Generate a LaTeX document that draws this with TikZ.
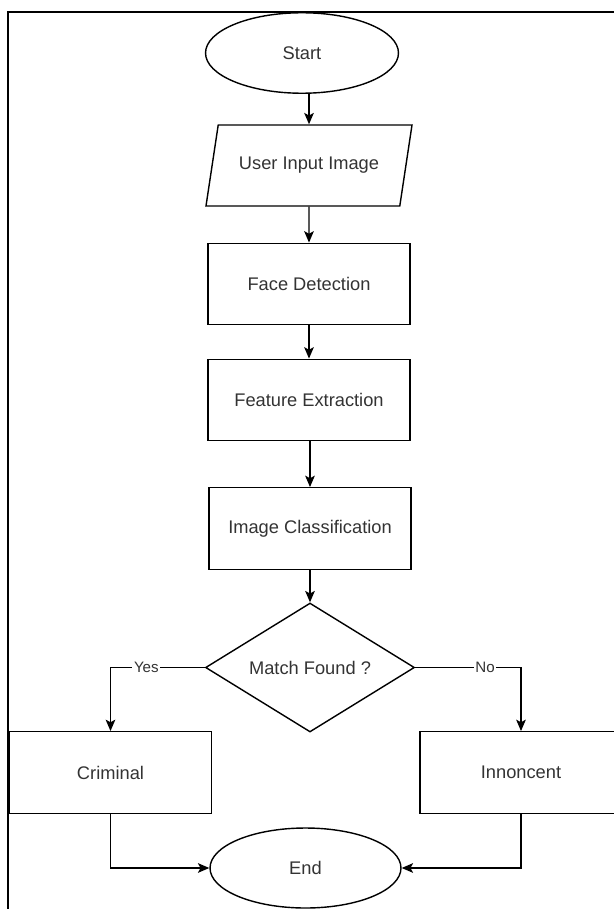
\documentclass[tikz,border=0pt]{standalone}
\usepackage{fontspec}
\setmainfont{Liberation Sans}
\usetikzlibrary{shapes.geometric}
\usetikzlibrary{arrows,arrows.meta}
\usetikzlibrary{calc}
\definecolor{linie}{RGB}{0,0,0}
\definecolor{schrift}{RGB}{51,51,51}

\begin{document}
\begin{tikzpicture}[x=0.02cm, y=-0.02cm, line width=0.8pt, linie,
    box/.style={draw, rectangle, minimum width=4.04cm, minimum height=1.63cm, text=schrift, font=\fontsize{10.4}{12}\selectfont},
    terminal/.style={draw, ellipse, minimum width=3.86cm, minimum height=1.61cm, text=schrift, font=\fontsize{10.4}{12}\selectfont},
    eingabe/.style={draw, trapezium, trapezium left angle=70, trapezium right angle=110, trapezium stretches=true, minimum width=4.16cm, minimum height=1.62cm, text=schrift, font=\fontsize{10.4}{12}\selectfont},
    frage/.style={draw, diamond, aspect=1.62, inner sep=0pt, minimum width=4.18cm, minimum height=2.58cm, text=schrift, font=\fontsize{10.4}{12}\selectfont},
    pfeil/.style={-{Stealth[length=6.5pt, width=5.5pt, inset=1.5pt]}},
    marke/.style={fill=white, inner sep=1pt, text=schrift, font=\fontsize{8.6}{10}\selectfont}]

    \useasboundingbox (0,0) rectangle (614,909);
    \clip (0,0) rectangle (614,909);

    % frame
    \draw[line width=1.1pt] (8,12) rectangle (700,1000);

    \node[terminal] (start) at (302,53) {Start};
    \node[eingabe] (input) at (309,165.5) {User Input Image};
    \node[box] (face) at (309,284) {Face Detection};
    \node[box] (feature) at (309,400) {Feature Extraction};
    \node[box] (classify) at (310,528.5) {Image Classification};
    \node[frage] (match) at (310,667.5) {Match Found ?};
    \node[box] (criminal) at (110.5,772.5) {Criminal};
    \node[box] (innocent) at (521,772.5) {Innoncent};
    \node[terminal, minimum width=3.82cm, minimum height=1.6cm] (end) at (305.5,868) {End};

    \draw[pfeil] (start.south -| input.north) -- (input.north);
    \draw[pfeil] (input) -- (face);
    \draw[pfeil] (face) -- (feature);
    \draw[pfeil] (feature.south -| classify.north) -- (classify.north);
    \draw[pfeil] (classify) -- (match);

    \draw[pfeil] (match.west) -| node[marke, pos=0.31] {Yes} (criminal.north);
    \draw[pfeil] (match.east) -| node[marke, pos=0.33] {No} (innocent.north);

    \draw[pfeil] (criminal.south) |- (end.west);
    \draw[pfeil] (innocent.south) |- (end.east);

\end{tikzpicture}
\end{document}
